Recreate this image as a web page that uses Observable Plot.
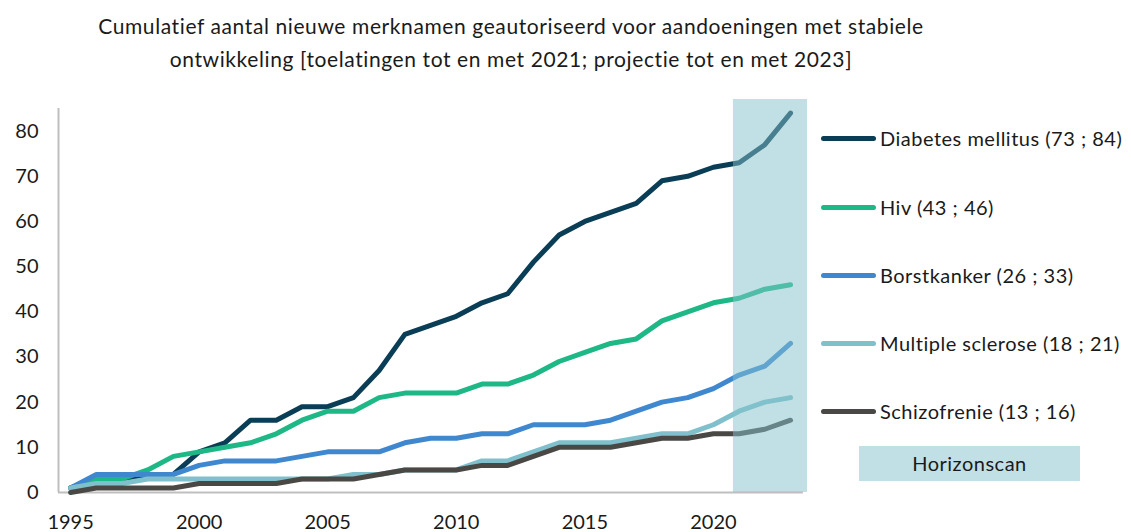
<!DOCTYPE html>
<html>
<head>
<meta charset="utf-8">
<script src="https://cdn.jsdelivr.net/npm/d3@7"></script>
<script src="https://cdn.jsdelivr.net/npm/@observablehq/plot@0.6"></script>
<style>
  html, body { margin: 0; padding: 0; background: #fff; }
  body { width: 1131px; height: 532px; overflow: hidden; font-family: Lato, "Open Sans", sans-serif; color: #1a1a1a; }
  #wrap { position: relative; width: 1131px; height: 532px; }
  #title { position: absolute; left: 0; top: 9px; width: 1022px; text-align: center; font-size: 21px; letter-spacing: 0.6px; line-height: 33px; color: #1a1a1a; }
  #chart { position: absolute; left: 0; top: 85px; }
  #legend { position: absolute; left: 821px; top: 0; width: 310px; }
  .item { position: absolute; left: 0; display: flex; align-items: center; white-space: nowrap; font-size: 20px; letter-spacing: 0.5px; }
  .sw { width: 55px; height: 5px; border-radius: 3px; margin-right: 4px; }
  #hs { position: absolute; left: 38px; top: 446px; width: 221px; height: 35px; background: #c1e0e5; text-align: center; line-height: 35px; font-size: 20px; letter-spacing: 0.5px; }
</style>
</head>
<body>
<div id="wrap">
  <div id="title">Cumulatief aantal nieuwe merknamen geautoriseerd voor aandoeningen met stabiele<br>ontwikkeling [toelatingen tot en met 2021; projectie tot en met 2023]</div>
  <div id="chart"></div>
  <div id="legend"></div>
</div>
<script>
const years = d3.range(1995, 2024);
const seriesNames = ["Diabetes mellitus", "Hiv", "Borstkanker", "Multiple sclerose", "Schizofrenie"];
const legendLabels = ["Diabetes mellitus (73 ; 84)", "Hiv (43 ; 46)", "Borstkanker (26 ; 33)", "Multiple sclerose (18 ; 21)", "Schizofrenie (13 ; 16)"];
const colors = ["#0a3d56", "#1db886", "#3f88d0", "#7fc0cc", "#4a4845"];

const diabetes = [1, 3, 3, 4, 4, 9, 11, 16, 16, 19, 19, 21, 27, 35, 37, 39, 42, 44, 51, 57, 60, 62, 64, 69, 70, 72, 73, 77, 84];
const hiv      = [1, 3, 3, 5, 8, 9, 10, 11, 13, 16, 18, 18, 21, 22, 22, 22, 24, 24, 26, 29, 31, 33, 34, 38, 40, 42, 43, 45, 46];
const borst    = [1, 4, 4, 4, 4, 6, 7, 7, 7, 8, 9, 9, 9, 11, 12, 12, 13, 13, 15, 15, 15, 16, 18, 20, 21, 23, 26, 28, 33];
const ms       = [1, 2, 2, 3, 3, 3, 3, 3, 3, 3, 3, 4, 4, 5, 5, 5, 7, 7, 9, 11, 11, 11, 12, 13, 13, 15, 18, 20, 21];
const schizo   = [0, 1, 1, 1, 1, 2, 2, 2, 2, 3, 3, 3, 4, 5, 5, 5, 6, 6, 8, 10, 10, 10, 11, 12, 12, 13, 13, 14, 16];

const xTicks = [1995, 2000, 2005, 2010, 2015, 2020];
const yTicks = [0, 10, 20, 30, 40, 50, 60, 70, 80];
const horizonStart = 2020.78;
const horizonEnd = 2023.66;

const allValues = [diabetes, hiv, borst, ms, schizo];
const rows = [];
seriesNames.forEach((s, i) => years.forEach((yr, j) => rows.push({series: s, year: yr, value: allValues[i][j]})));

const W = 1131, H = 447;
const chart = Plot.plot({
  width: W,
  height: H,
  marginTop: 14,
  marginBottom: 40,
  marginLeft: 58,
  marginRight: 324,
  style: {fontFamily: "Lato, 'Open Sans', sans-serif", fontSize: "20px", color: "#1a1a1a", background: "transparent"},
  x: {domain: [1994.53, horizonEnd], ticks: xTicks, tickFormat: d => String(d), tickSize: 0, tickPadding: 22, label: null},
  y: {domain: [0, 87], ticks: yTicks, tickSize: 0, tickPadding: 20, label: null},
  color: {domain: seriesNames, range: colors},
  marks: [
    Plot.ruleY([0], {x1: 1994.53, x2: 2023.5, stroke: "#bfbfbf", strokeWidth: 2}),
    Plot.ruleX([1994.53], {y1: 0, y2: 85, stroke: "#bfbfbf", strokeWidth: 2}),
    Plot.line(rows, {x: "year", y: "value", z: "series", stroke: "series", strokeWidth: 5, strokeLinecap: "round", strokeLinejoin: "round"}),
    Plot.rect([{x1: horizonStart, x2: horizonEnd}], {x1: "x1", x2: "x2", y1: 0, y2: 87, fill: "#83c1cb", fillOpacity: 0.5}),
    Plot.axisX({ticks: xTicks, tickFormat: d => String(d), tickSize: 0, tickPadding: 22, fontSize: 20}),
    Plot.axisY({ticks: yTicks, tickSize: 0, tickPadding: 20, fontSize: 20})
  ]
});
document.getElementById("chart").appendChild(chart);

const legend = document.getElementById("legend");
const legendTops = [138, 207, 275, 343, 411];
legendLabels.forEach((lab, i) => {
  const d = document.createElement("div");
  d.className = "item";
  d.style.top = (legendTops[i] - 12) + "px";
  d.style.height = "24px";
  const sw = document.createElement("div");
  sw.className = "sw";
  sw.style.background = colors[i];
  const t = document.createElement("span");
  t.textContent = lab;
  d.appendChild(sw); d.appendChild(t);
  legend.appendChild(d);
});
const hs = document.createElement("div");
hs.id = "hs";
hs.textContent = "Horizonscan";
legend.appendChild(hs);
</script>
</body>
</html>
